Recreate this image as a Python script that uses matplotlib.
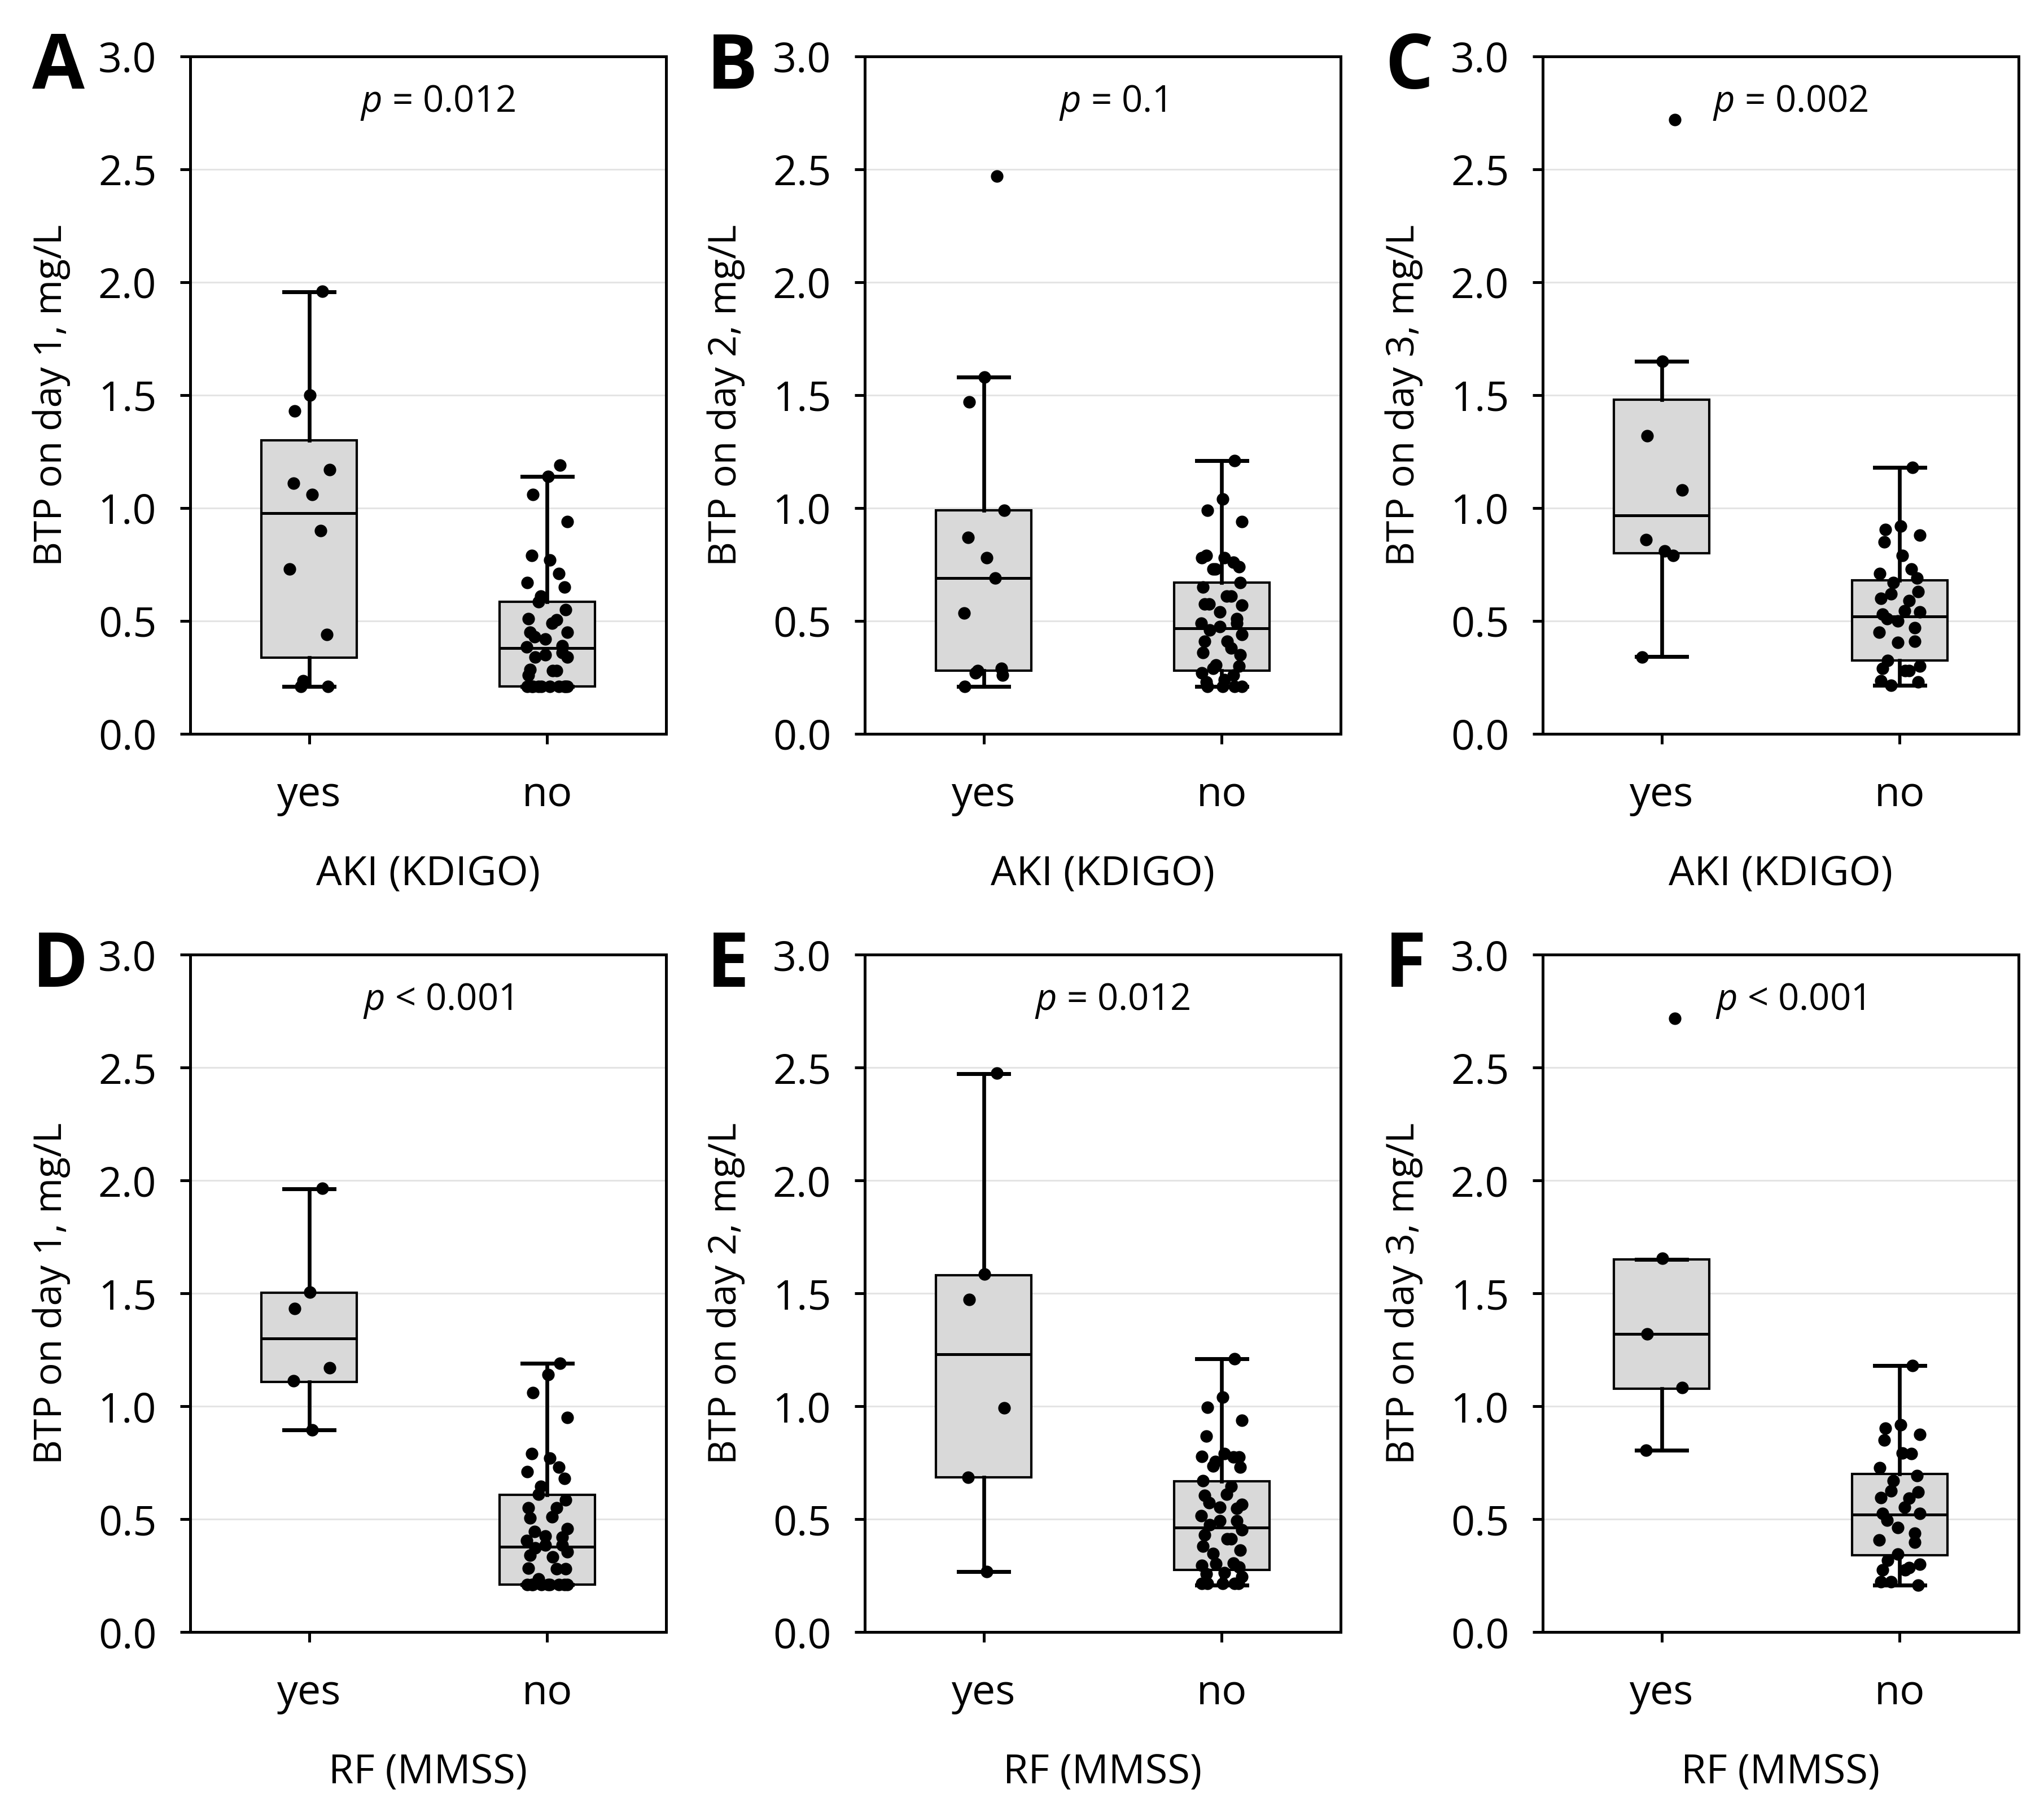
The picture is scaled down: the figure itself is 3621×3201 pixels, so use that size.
import matplotlib
matplotlib.use("Agg")
from matplotlib import pyplot as plt
import numpy as np


# DATA

GROUPS = ["yes", "no"]
PANELS = ["A", "B", "C", "D", "E", "F"]
XLABELS = ["AKI (KDIGO)"] * 3 + ["RF (MMSS)"] * 3
YLABELS = ["BTP on day 1, mg/L", "BTP on day 2, mg/L", "BTP on day 3, mg/L"] * 2
PVALUES = ["= 0.012", "= 0.1", "= 0.002", "< 0.001", "= 0.012", "< 0.001"]

# individual points
A_yes = [1.96, 1.50, 1.43, 1.17, 1.11, 1.06, 0.90, 0.73, 0.44, 0.235, 0.21, 0.21]
A_no = [1.19, 1.14, 1.06, 0.94, 0.79, 0.77, 0.71, 0.67, 0.65, 0.61, 0.585, 0.55, 0.51,
        0.505, 0.49, 0.45, 0.45, 0.43, 0.42, 0.39, 0.385, 0.36, 0.35, 0.34, 0.34,
        0.285, 0.28, 0.28, 0.26, 0.21, 0.21, 0.21, 0.21, 0.21, 0.21, 0.21, 0.21, 0.21, 0.21]
B_yes = [2.47, 1.58, 1.47, 0.99, 0.87, 0.78, 0.69, 0.535, 0.29, 0.28, 0.27, 0.26, 0.21]
B_no = [1.21, 1.04, 0.99, 0.94, 0.79, 0.78, 0.76, 0.78, 0.74, 0.73, 0.73, 0.67, 0.65,
        0.61, 0.61, 0.575, 0.57, 0.575, 0.54, 0.51, 0.49, 0.49, 0.475, 0.46, 0.44,
        0.41, 0.41, 0.38, 0.36, 0.35, 0.29, 0.305, 0.30, 0.27, 0.26, 0.24, 0.23,
        0.21, 0.21, 0.21, 0.21]
C_yes = [2.72, 1.65, 1.32, 1.08, 0.86, 0.81, 0.79, 0.34]
C_no = [1.18, 0.92, 0.905, 0.88, 0.85, 0.79, 0.73, 0.71, 0.69, 0.67, 0.62, 0.63, 0.60,
        0.59, 0.545, 0.53, 0.54, 0.51, 0.50, 0.47, 0.45, 0.41, 0.405, 0.325, 0.30,
        0.29, 0.28, 0.28, 0.235, 0.23, 0.215]
D_yes = [1.966, 1.506, 1.433, 1.171, 1.113, 0.896]
D_no = [1.19, 1.14, 1.06, 0.95, 0.79, 0.77, 0.73, 0.71, 0.68, 0.645, 0.61, 0.586, 0.55,
        0.55, 0.51, 0.505, 0.457, 0.445, 0.424, 0.42, 0.405, 0.385, 0.385, 0.372,
        0.356, 0.34, 0.332, 0.279, 0.283, 0.279, 0.235, 0.21, 0.21, 0.21, 0.21, 0.21,
        0.21, 0.21, 0.21, 0.21]
E_yes = [2.475, 1.585, 1.473, 0.992, 0.686, 0.267]
E_no = [1.21, 1.04, 0.995, 0.938, 0.867, 0.79, 0.775, 0.778, 0.775, 0.755, 0.734, 0.73,
        0.671, 0.645, 0.61, 0.604, 0.565, 0.573, 0.552, 0.547, 0.515, 0.493, 0.493,
        0.475, 0.452, 0.431, 0.413, 0.413, 0.381, 0.363, 0.347, 0.303, 0.288, 0.294,
        0.306, 0.262, 0.258, 0.244, 0.214, 0.214, 0.214, 0.214, 0.214]
F_yes = [2.718, 1.654, 1.32, 1.082, 0.806]
F_no = [1.179, 0.918, 0.903, 0.874, 0.849, 0.792, 0.79, 0.728, 0.693, 0.67, 0.625, 0.621,
        0.596, 0.592, 0.553, 0.524, 0.524, 0.495, 0.462, 0.437, 0.408, 0.398, 0.346,
        0.317, 0.301, 0.276, 0.276, 0.285, 0.223, 0.208, 0.223]

# box statistics as drawn: [whisker low, q1, median, q3, whisker high]
A_box = [[0.21, 0.337, 0.977, 1.30, 1.957], [0.21, 0.21, 0.38, 0.585, 1.14]]
B_box = [[0.21, 0.28, 0.69, 0.99, 1.58], [0.21, 0.28, 0.467, 0.67, 1.21]]
C_box = [[0.343, 0.80, 0.967, 1.48, 1.65], [0.215, 0.325, 0.52, 0.68, 1.18]]
D_box = [[0.896, 1.108, 1.30, 1.503, 1.963], [0.21, 0.21, 0.377, 0.607, 1.19]]
E_box = [[0.267, 0.686, 1.229, 1.579, 2.473], [0.208, 0.276, 0.463, 0.668, 1.209]]
F_box = [[0.806, 1.078, 1.32, 1.65, 1.65], [0.208, 0.34, 0.52, 0.699, 1.179]]

POINTS = [(A_yes, A_no), (B_yes, B_no), (C_yes, C_no),
          (D_yes, D_no), (E_yes, E_no), (F_yes, F_no)]
BOXES = [A_box, B_box, C_box, D_box, E_box, F_box]


# STYLE

plt.rcParams["font.family"] = ["Open Sans", "DejaVu Sans"]
plt.rcParams["mathtext.fontset"] = "custom"
plt.rcParams["mathtext.it"] = "Open Sans:italic"
plt.rcParams["mathtext.rm"] = "Open Sans"

W, H = 3621, 3201
AX_LEFT = [337, 1532, 2733]
AX_TOP = [100, 1691]
AX_W, AX_H = 843, 1200

BOX_FILL = "#d9d9d9"
GRID = "#e4e4e4"


# deterministic horizontal spread for the dots
def spread(n):
    return 0.085 * np.sin(np.arange(n) * 2.39996 + 0.7)


def to_stats(box):
    return [{"whislo": b[0], "q1": b[1], "med": b[2], "q3": b[3], "whishi": b[4]} for b in box]


fig = plt.figure(figsize=(W / 100, H / 100), dpi=100)

for k in range(6):
    row, col = divmod(k, 3)
    left = AX_LEFT[col] / W
    bottom = 1 - (AX_TOP[row] + AX_H) / H
    ax = fig.add_axes([left, bottom, AX_W / W, AX_H / H])

    ax.bxp(to_stats(BOXES[k]), positions=[1, 2], widths=0.4, showfliers=False,
           patch_artist=True, capwidths=0.21,
           boxprops=dict(facecolor=BOX_FILL, edgecolor="black", linewidth=3.0),
           medianprops=dict(color="black", linewidth=3.6),
           whiskerprops=dict(color="black", linewidth=4.8),
           capprops=dict(color="black", linewidth=5.0),
           zorder=2)

    for pos, vals in zip([1, 2], POINTS[k]):
        ax.plot(pos + spread(len(vals)), vals, "o", color="black", markersize=16,
                markeredgewidth=0, zorder=4)

    ax.set_xlim(0.5, 2.5)
    ax.set_ylim(0, 3.0)
    ax.set_yticks(np.arange(0, 3.01, 0.5))
    ax.set_yticklabels(["{:.1f}".format(v) for v in np.arange(0, 3.01, 0.5)])
    ax.set_xticks([1, 2])
    ax.set_xticklabels(GROUPS)
    ax.yaxis.grid(True, color=GRID, linewidth=2.2)
    ax.set_axisbelow(True)

    for s in ax.spines.values():
        s.set_linewidth(3.6)
    ax.tick_params(axis="both", direction="out", length=13, width=3.6, labelsize=53)
    ax.tick_params(axis="y", pad=30)
    ax.tick_params(axis="x", pad=39)

    ax.set_ylabel(YLABELS[k], fontsize=49)
    ax.yaxis.set_label_coords(-0.251, 0.5)
    ax.set_xlabel(XLABELS[k], fontsize=52)
    ax.xaxis.set_label_coords(0.5, -0.178)

    ax.text(0.52, 0.918, "$p$ " + PVALUES[k], transform=ax.transAxes,
            ha="center", va="baseline", fontsize=47)
    ax.text(-0.332, 0.9525, PANELS[k], transform=ax.transAxes,
            ha="left", va="baseline", fontsize=97, fontweight="bold")

fig.savefig("out.png", dpi=100, facecolor="white")
